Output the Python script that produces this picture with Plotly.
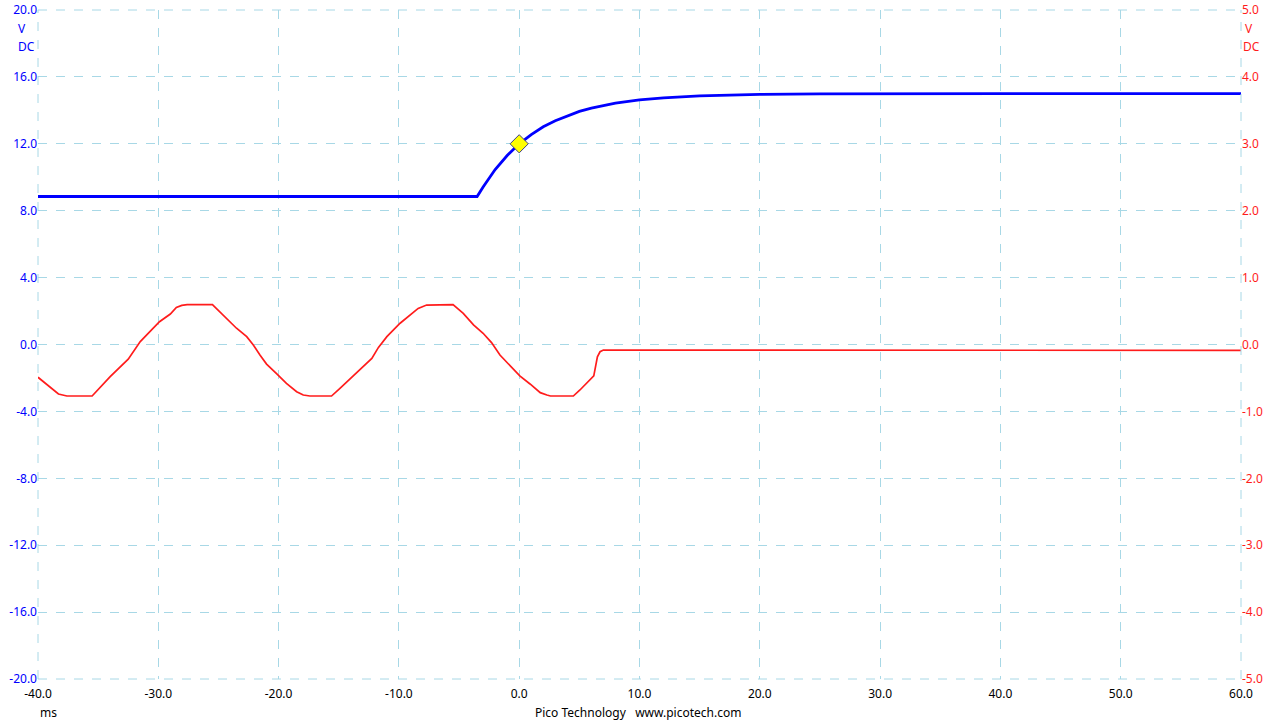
import plotly.graph_objects as go

# Channel A (blue, left axis, V)
blue_t = [-40, -30, -20, -10, -3.5, -3, -2, -1, 0, 1, 2, 3, 4, 5, 6, 8, 10, 12, 15, 20, 25, 30, 40, 50, 60]
blue_v = [8.85, 8.85, 8.87, 8.85, 8.85, 9.42, 10.46, 11.3, 12.0, 12.55, 13.02, 13.38, 13.68, 13.94,
          14.13, 14.43, 14.62, 14.75, 14.86, 14.95, 14.98, 15.0, 15.0, 15.0, 15.0]

# Channel B (red, right axis, V)
red_t = [-40.0, -39.0, -38.3, -37.6, -35.5, -34.0, -32.5, -31.5, -29.9, -29.0, -28.5, -28.05, -27.6,
         -25.5, -24.9, -24.2, -23.5, -22.65, -22.1, -21.55, -21.0, -20.15, -19.35, -18.5, -17.95,
         -17.4, -15.6, -14.9, -13.8, -12.95, -12.25, -11.7, -11.0, -9.9, -9.1, -8.4, -7.7, -5.5,
         -4.65, -3.8, -3.0, -2.3, -1.6, -0.75, 0.05, 0.9, 1.75, 2.3, 2.6, 4.5, 5.05, 6.2, 6.38,
         6.5, 6.72, 7.0, 60]
red_v = [-0.49, -0.63, -0.74, -0.77, -0.77, -0.48, -0.22, 0.043, 0.34, 0.455, 0.555, 0.585, 0.595,
         0.595, 0.49, 0.378, 0.243, 0.118, -0.008, -0.158, -0.293, -0.44, -0.58, -0.705, -0.755,
         -0.77, -0.77, -0.655, -0.47, -0.34, -0.208, -0.043, 0.118, 0.318, 0.44, 0.54, 0.59, 0.595,
         0.465, 0.293, 0.168, 0.028, -0.158, -0.323, -0.47, -0.59, -0.72, -0.755, -0.77, -0.77,
         -0.68, -0.47, -0.28, -0.183, -0.108, -0.083, -0.088]

trigger_t = [0]
trigger_v = [12.0]

x_ticks = [-40, -30, -20, -10, 0, 10, 20, 30, 40, 50, 60]
left_ticks = [20, 16, 12, 8, 4, 0, -4, -8, -12, -16, -20]
right_ticks = [5, 4, 3, 2, 1, 0, -1, -2, -3, -4, -5]

BLUE = "#0000ff"
RED = "#ff1c1c"
GRID = "#a8d8e6"
FONT = "Noto Sans"

fig = go.Figure()
fig.add_trace(go.Scatter(x=blue_t, y=blue_v, mode="lines", line=dict(color=BLUE, width=2.8),
                         yaxis="y", showlegend=False, hoverinfo="skip"))
fig.add_trace(go.Scatter(x=red_t, y=red_v, mode="lines", line=dict(color=RED, width=1.7),
                         yaxis="y2", showlegend=False, hoverinfo="skip"))
fig.add_trace(go.Scatter(x=trigger_t, y=trigger_v, mode="markers",
                         marker=dict(symbol="diamond", size=14, color="#ffff00",
                                     line=dict(color="#404080", width=1)),
                         yaxis="y", showlegend=False, hoverinfo="skip"))

fig.update_layout(
    width=1280, height=720,
    margin=dict(l=38, r=39, t=10, b=41, autoexpand=False),
    paper_bgcolor="white", plot_bgcolor="white",
    font=dict(family=FONT, size=12, color="black"),
    xaxis=dict(range=[-40, 60], tickvals=x_ticks, ticktext=[f"{v:.1f}" for v in x_ticks],
               showgrid=True, gridcolor=GRID, griddash="dash", gridwidth=1, automargin=False,
               zeroline=False, showline=False, ticks="", ticklabelstandoff=6,
               tickfont=dict(color="black", size=12)),
    yaxis=dict(range=[-20, 20], tickvals=left_ticks, ticktext=[f"{v:.1f}" for v in left_ticks],
               showgrid=True, gridcolor=GRID, griddash="dash", gridwidth=1, automargin=False,
               zeroline=False, showline=False, ticks="", tickfont=dict(color=BLUE, size=12)),
    yaxis2=dict(range=[-5, 5], tickvals=right_ticks, ticktext=[f"{v:.1f}" for v in right_ticks],
                overlaying="y", side="right", showgrid=False, zeroline=False, showline=False,
                automargin=False, ticks="", tickfont=dict(color=RED, size=12)),
    shapes=[
        dict(type="line", xref="paper", yref="paper", x0=0, x1=0, y0=0, y1=1,
             line=dict(color=GRID, width=1, dash="dash")),
        dict(type="line", xref="paper", yref="paper", x0=1, x1=1, y0=0, y1=1,
             line=dict(color=GRID, width=1, dash="dash")),
        dict(type="line", xref="paper", yref="paper", x0=0, x1=1, y0=0, y1=0,
             line=dict(color=GRID, width=1, dash="dash")),
        dict(type="line", xref="paper", yref="paper", x0=0, x1=1, y0=1, y1=1,
             line=dict(color=GRID, width=1, dash="dash")),
    ],
    annotations=[
        dict(text="V", xref="paper", yref="paper", x=0, y=1, xshift=-10, yshift=-18,
             xanchor="right", yanchor="middle", showarrow=False, font=dict(color=BLUE, size=12)),
        dict(text="DC", xref="paper", yref="paper", x=0, y=1, xshift=-1, yshift=-36,
             xanchor="right", yanchor="middle", showarrow=False, font=dict(color=BLUE, size=12)),
        dict(text="V", xref="paper", yref="paper", x=1, y=1, xshift=2, yshift=-18,
             xanchor="left", yanchor="middle", showarrow=False, font=dict(color=RED, size=12)),
        dict(text="DC", xref="paper", yref="paper", x=1, y=1, xshift=0, yshift=-36,
             xanchor="left", yanchor="middle", showarrow=False, font=dict(color=RED, size=12)),
        dict(text="ms", xref="paper", yref="paper", x=0, y=0, xshift=0, yshift=-33,
             xanchor="left", yanchor="middle", showarrow=False, font=dict(color="black", size=12)),
        dict(text="Pico Technology   www.picotech.com", xref="paper", yref="paper", x=0.5, y=0,
             xshift=-2, yshift=-33, xanchor="center", yanchor="middle", showarrow=False,
             font=dict(color="black", size=12)),
    ],
)

fig.write_html("out.html", config={"displayModeBar": False},
               post_script="document.body.style.margin='0';")
